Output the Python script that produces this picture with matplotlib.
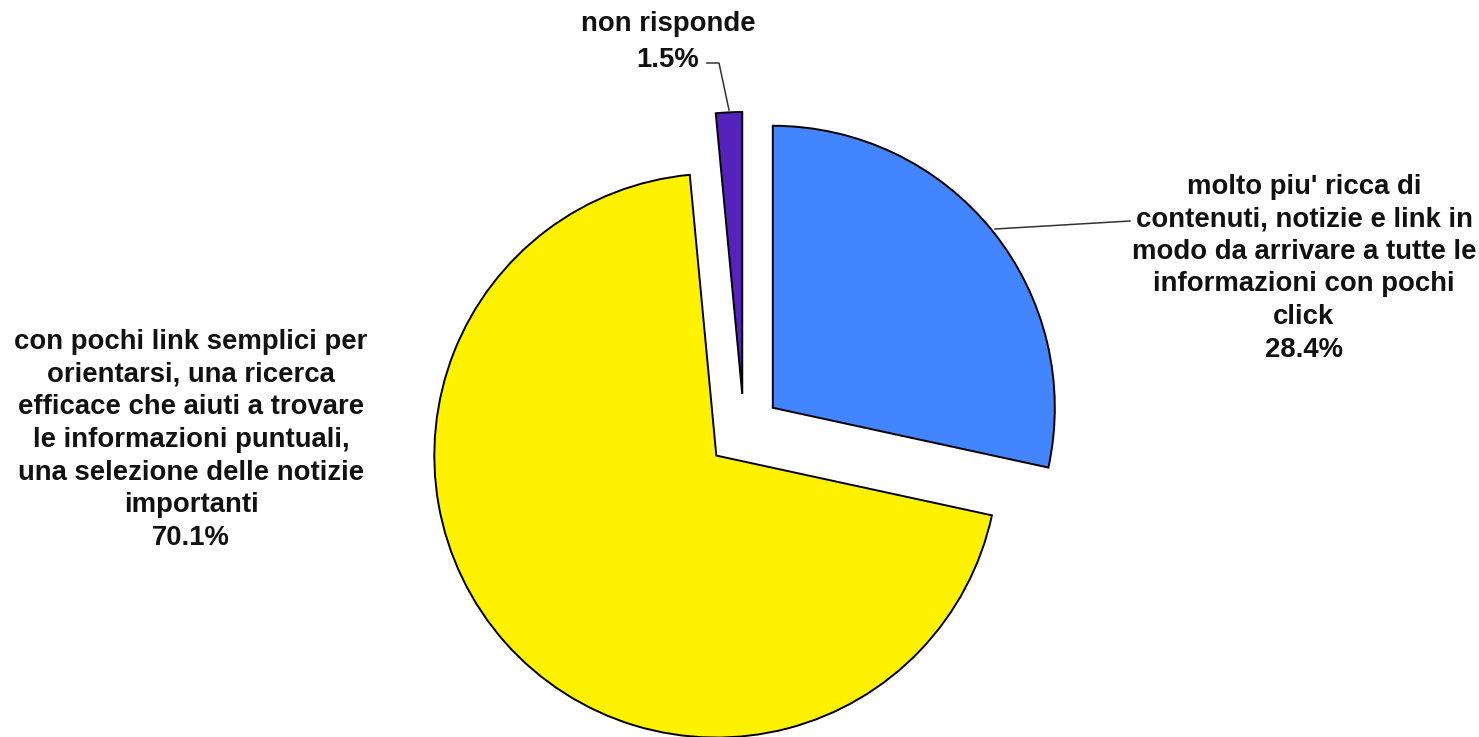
import matplotlib
matplotlib.use("Agg")
from matplotlib import pyplot as plt

# Survey answers, in drawing order (clockwise from 12 o'clock)
labels = [
    "molto piu' ricca di\ncontenuti, notizie e link in\nmodo da arrivare a tutte le\ninformazioni con pochi\nclick",
    "con pochi link semplici per\norientarsi, una ricerca\nefficace che aiuti a trovare\nle informazioni puntuali,\nuna selezione delle notizie\nimportanti",
    "non risponde",
]
values = [28.4, 70.1, 1.5]
colors = ["#4285FF", "#FFF200", "#5522BB"]

W, H = 1479, 737
fig = plt.figure(figsize=(W / 100, H / 100), dpi=100)
ax = fig.add_axes([0, 0, 1, 1])

# pie is laid out in pixel units; explode is absolute, not relative to radius
cx, cy, r = 744, H - 431, 282
ax.pie(
    values,
    colors=colors,
    startangle=90,
    counterclock=False,
    explode=[37] * len(values),
    center=(cx, cy),
    radius=r,
    wedgeprops=dict(edgecolor="black", linewidth=1.4),
)
ax.set_xlim(0, W)
ax.set_ylim(0, H)
ax.set_aspect("equal")
ax.axis("off")

font = dict(family="Liberation Sans", fontweight="bold", fontsize=19.8,
            color="#111111", ha="center", va="center")

# label positions (pixel coords, y measured from the top) and line spacing
label_pos = [(1304, 268), (191, 440), (668, 42)]
spacing = [1.33, 1.33, 1.5]
for text, val, (x, y), ls in zip(labels, values, label_pos, spacing):
    ax.text(x, H - y, f"{text}\n{val}%", linespacing=ls, **font)

# leader lines
ax.plot([995, 1130], [H - 229, H - 221], color="#333333", lw=1.1)
ax.plot([707, 719, 729], [H - 63, H - 63, H - 110], color="#333333", lw=1.1)

fig.savefig("out.png", dpi=100, facecolor="white")
